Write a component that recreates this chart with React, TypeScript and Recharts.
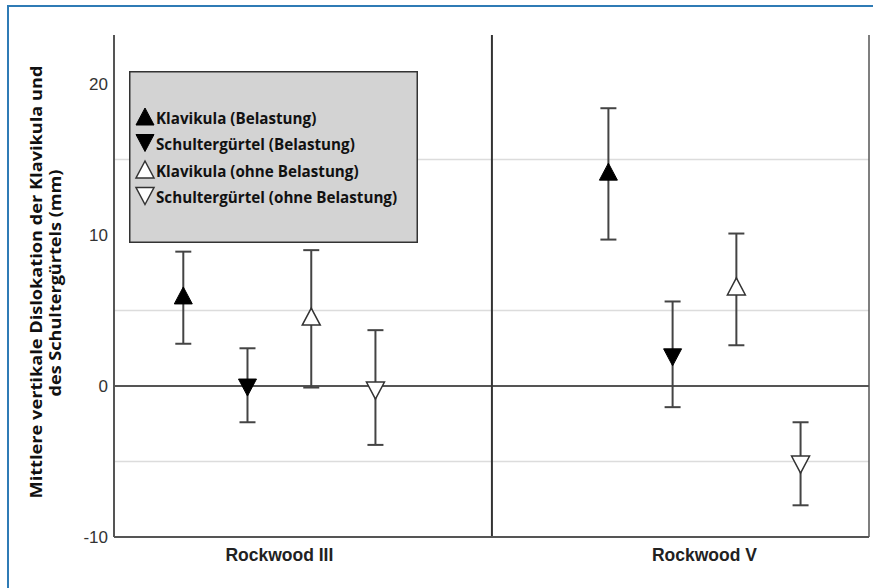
import { ScatterChart, Scatter, XAxis, YAxis, ErrorBar, ReferenceLine, Legend } from 'recharts';

const categories = ['Rockwood III', 'Rockwood V'];
const seriesNames = [
  'Klavikula (Belastung)',
  'Schultergürtel (Belastung)',
  'Klavikula (ohne Belastung)',
  'Schultergürtel (ohne Belastung)',
];

// mean and 95% CI per category (Rockwood III, Rockwood V)
const meanKlavBel = [6.0, 14.2];
const lowKlavBel = [2.8, 9.7];
const highKlavBel = [8.9, 18.4];

const meanSchBel = [-0.1, 1.9];
const lowSchBel = [-2.4, -1.4];
const highSchBel = [2.5, 5.6];

const meanKlavOhne = [4.6, 6.6];
const lowKlavOhne = [-0.1, 2.7];
const highKlavOhne = [9.0, 10.1];

const meanSchOhne = [-0.3, -5.2];
const lowSchOhne = [-3.9, -7.9];
const highSchOhne = [3.7, -2.4];

const yTicks = [-10, 0, 10, 20];
const gridValues = [-5, 5, 15];

const means = [meanKlavBel, meanSchBel, meanKlavOhne, meanSchOhne];
const lows = [lowKlavBel, lowSchBel, lowKlavOhne, lowSchOhne];
const highs = [highKlavBel, highSchBel, highKlavOhne, highSchOhne];

// horizontal dodge of the four series within a category
const dodge = [-0.226, -0.075, 0.075, 0.226];

const seriesData = means.map((m, s) =>
  categories.map((c, i) => ({
    cat: c,
    x: i + dodge[s],
    y: m[i],
    err: [m[i] - lows[s][i], highs[s][i] - m[i]],
  }))
);

const TRI_W = 18;
const TRI_H = 17;

function Marker({ kind, cx, cy }: { kind: number; cx: number; cy: number }) {
  const up = kind === 0 || kind === 2;
  const filled = kind < 2;
  const h = TRI_H / 2;
  const w = TRI_W / 2;
  const d = up
    ? `M${cx},${cy - h} L${cx + w},${cy + h} L${cx - w},${cy + h} Z`
    : `M${cx},${cy + h} L${cx + w},${cy - h} L${cx - w},${cy - h} Z`;
  return (
    <path
      d={d}
      fill={filled ? '#000' : '#fff'}
      stroke={filled ? '#000' : '#333'}
      strokeWidth={filled ? 1 : 1.5}
      strokeLinejoin="miter"
    />
  );
}

const makeShape = (kind: number) => (props: any) => <Marker kind={kind} cx={props.cx} cy={props.cy} />;

const LegendBox = () => (
  <svg width={289} height={172} style={{ display: 'block' }}>
    <rect x={0.75} y={0.75} width={287.5} height={170.5} fill="#d3d3d3" stroke="#333" strokeWidth={1.5} />
    {seriesNames.map((name, i) => {
      const cy = 45.5 + i * 26.5;
      return (
        <g key={name}>
          <Marker kind={i} cx={16} cy={cy} />
          <text
            x={27}
            y={cy + 1}
            dominantBaseline="central"
            fontFamily="'Open Sans', sans-serif"
            fontWeight={700}
            fontSize={15.2}
            fill="#111"
          >
            {name}
          </text>
        </g>
      );
    })}
  </svg>
);

const YLabel = () => (
  <g fontFamily="'Open Sans', sans-serif" fontWeight={700} fontSize={16.5} fill="#111">
    <text
      x={35}
      y={282}
      transform="rotate(-90, 35, 282)"
      textAnchor="middle"
      dominantBaseline="central"
      textLength={433}
      lengthAdjust="spacingAndGlyphs"
    >
      Mittlere vertikale Dislokation der Klavikula und
    </text>
    <text
      x={54}
      y={283}
      transform="rotate(-90, 54, 283)"
      textAnchor="middle"
      dominantBaseline="central"
      textLength={227}
      lengthAdjust="spacingAndGlyphs"
    >
      des Schultergürtels (mm)
    </text>
  </g>
);

export default function App() {
  return (
    <div style={{ position: 'absolute', left: 0, top: 0, width: 873, height: 588, overflow: 'hidden', background: '#fff' }}>
      <div
        style={{
          position: 'absolute',
          left: 7,
          top: 5,
          width: 900,
          height: 700,
          borderTop: '2px solid #2f7bb5',
          borderLeft: '2px solid #2f7bb5',
        }}
      />
      <ScatterChart width={873} height={588} margin={{ top: 35, right: 4, bottom: 21, left: 0 }}>
        <XAxis
          type="number"
          dataKey="x"
          domain={[-0.389, 1.387]}
          ticks={[0, 1]}
          tickFormatter={(v: number) => categories[Math.round(v)]}
          allowDataOverflow
          height={30}
          tickLine={false}
          tickSize={0}
          tickMargin={12}
          axisLine={{ stroke: '#555', strokeWidth: 2 }}
          tick={{ fontFamily: "'Liberation Sans', Arial, sans-serif", fontWeight: 700, fontSize: 17.5, fill: '#222' }}
        />
        <YAxis
          type="number"
          dataKey="y"
          domain={[-10, 23.25]}
          ticks={yTicks}
          allowDataOverflow
          width={114}
          tickLine={false}
          tickSize={6}
          tickMargin={0}
          axisLine={{ stroke: '#555', strokeWidth: 2 }}
          tick={{ fontFamily: "'Liberation Sans', Arial, sans-serif", fontSize: 17, fill: '#333' }}
          label={{ content: YLabel }}
        />
        {gridValues.map((v) => (
          <ReferenceLine key={v} y={v} stroke="#dcdcdc" strokeWidth={1.5} />
        ))}
        <ReferenceLine y={0} stroke="#555" strokeWidth={2} />
        <ReferenceLine x={0.5} stroke="#333" strokeWidth={2} />
        <ReferenceLine x={1.387} stroke="#555" strokeWidth={1.5} />
        {seriesData.map((data, s) => (
          <Scatter
            key={seriesNames[s]}
            name={seriesNames[s]}
            data={data}
            shape={makeShape(s)}
            isAnimationActive={false}
          >
            <ErrorBar dataKey="err" direction="y" width={8} stroke="#444" strokeWidth={2} />
          </Scatter>
        ))}
        <Legend
          layout="vertical"
          align="center"
          verticalAlign="middle"
          wrapperStyle={{ left: 129, top: 71, width: 289, height: 172 }}
          content={LegendBox}
        />
      </ScatterChart>
    </div>
  );
}
